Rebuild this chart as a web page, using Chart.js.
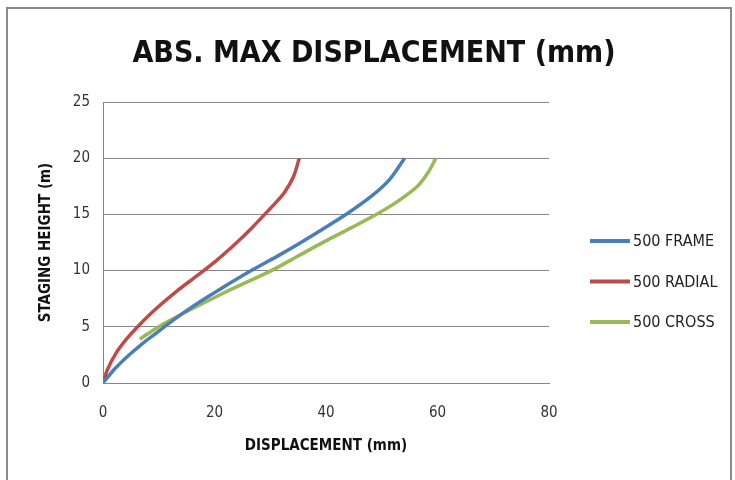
<!DOCTYPE html>
<html>
<head>
<meta charset="utf-8">
<script src="https://cdn.jsdelivr.net/npm/chart.js@4"></script>
<style>
  html, body { margin: 0; padding: 0; background: #fff; }
  #wrap { position: relative; width: 735px; height: 480px; }
</style>
</head>
<body>
<div id="wrap"><canvas id="chart" width="735" height="480"></canvas></div>
<script>
// data (displacement mm vs staging height m)
var chartTitle = 'ABS. MAX DISPLACEMENT (mm)';
var seriesNames = ['500 FRAME', '500 RADIAL', '500 CROSS'];
var seriesColors = ['#4A7EBB', '#BE4B48', '#98B954'];

var frameHeights = [0, 1.2, 2.1, 2.8, 3.6, 4.3, 5.0, 6.3, 7.3, 8.35, 10, 11.4, 12.5, 13.9, 15.1, 16.6, 18.1, 20];
var frameDisp = [0, 2.0, 3.8, 5.4, 7.3, 9.2, 11.0, 14.6, 17.6, 21.0, 26.6, 31.7, 35.5, 40.1, 43.9, 48.1, 51.4, 54.1];

var radialHeights = [0, 1.2, 2.7, 3.9, 5.05, 6.6, 8.2, 9.7, 11.0, 12.5, 13.75, 15, 16, 17, 18.4, 20];
var radialDisp = [0, 0.8, 2.4, 4.2, 6.3, 9.5, 13.3, 17.3, 20.6, 24.0, 26.6, 29.0, 30.9, 32.6, 34.2, 35.2];

var crossHeights = [3.9, 5.25, 7.9, 10, 11.3, 12.6, 13.8, 15.1, 16.2, 17.5, 18.8, 20];
var crossDisp = [6.6, 10.8, 21.2, 30.2, 35.0, 39.8, 44.5, 49.4, 53.0, 56.4, 58.4, 59.7];

var xTicks = [0, 20, 40, 60, 80];
var yTicks = [0, 5, 10, 15, 20, 25];

var FONT = "'Liberation Sans Narrow', 'DejaVu Sans Condensed', 'Open Sans', sans-serif";

function pairs(xs, ys) {
  var out = [];
  for (var i = 0; i < xs.length; i++) out.push({x: xs[i], y: ys[i]});
  return out;
}

// title, legend and outer frame drawn around the plot
var frameDeco = {
  id: 'frameDeco',
  afterDraw: function (chart) {
    var ctx = chart.ctx;
    ctx.save();
    ctx.strokeStyle = '#8a8a8a';
    ctx.lineWidth = 2;
    ctx.strokeRect(7, 8, 724, 490);

    ctx.fillStyle = '#111';
    ctx.font = 'bold 30px ' + FONT;
    ctx.textAlign = 'center';
    ctx.textBaseline = 'middle';
    ctx.fillText(chartTitle, 374, 54);

    ctx.font = '16px ' + FONT;
    ctx.textAlign = 'left';
    chart.data.datasets.forEach(function (ds, i) {
      var y = 241 + i * 40.5;
      ctx.strokeStyle = ds.borderColor;
      ctx.lineWidth = 4;
      ctx.beginPath();
      ctx.moveTo(590, y);
      ctx.lineTo(630, y);
      ctx.stroke();
      ctx.fillStyle = '#222';
      ctx.fillText(ds.label, 633, y + 1);
    });
    ctx.restore();
  }
};

var datasets = [
  {label: seriesNames[0], data: pairs(frameDisp, frameHeights), borderColor: seriesColors[0]},
  {label: seriesNames[1], data: pairs(radialDisp, radialHeights), borderColor: seriesColors[1]},
  {label: seriesNames[2], data: pairs(crossDisp, crossHeights), borderColor: seriesColors[2]}
];
datasets.forEach(function (d) {
  d.showLine = true;
  d.borderWidth = 3.5;
  d.pointRadius = 0;
  d.tension = 0.3;
  d.backgroundColor = d.borderColor;
});

new Chart(document.getElementById('chart'), {
  type: 'scatter',
  data: {datasets: datasets},
  plugins: [frameDeco],
  options: {
    responsive: false,
    animation: false,
    layout: {padding: {top: 102, right: 186, left: 0, bottom: 0}},
    plugins: {
      legend: {display: false},
      title: {display: false},
      tooltip: {enabled: false}
    },
    scales: {
      x: {
        type: 'linear',
        min: xTicks[0],
        max: xTicks[xTicks.length - 1],
        afterBuildTicks: function (s) { s.ticks = xTicks.map(function (v) { return {value: v}; }); },
        afterFit: function (s) { s.height = 97; },
        grid: {display: false, drawTicks: false},
        border: {display: true, color: '#878787', width: 1},
        ticks: {padding: 21, color: '#333', font: {family: FONT, size: 15}},
        title: {
          display: true, text: 'DISPLACEMENT (mm)', color: '#111',
          font: {family: FONT, size: 15, weight: 'bold'},
          padding: {top: 0, bottom: 25}
        }
      },
      y: {
        type: 'linear',
        min: yTicks[0],
        max: yTicks[yTicks.length - 1],
        afterBuildTicks: function (s) { s.ticks = yTicks.map(function (v) { return {value: v}; }); },
        afterFit: function (s) { s.width = 103; },
        grid: {color: '#878787', lineWidth: 1, drawTicks: false},
        border: {display: true, color: '#878787', width: 1},
        ticks: {padding: 13, color: '#333', font: {family: FONT, size: 15}},
        title: {
          display: true, text: 'STAGING HEIGHT (m)', color: '#111',
          font: {family: FONT, size: 15, weight: 'bold'},
          padding: {top: 37, bottom: 0}
        }
      }
    }
  }
});
</script>
</body>
</html>
